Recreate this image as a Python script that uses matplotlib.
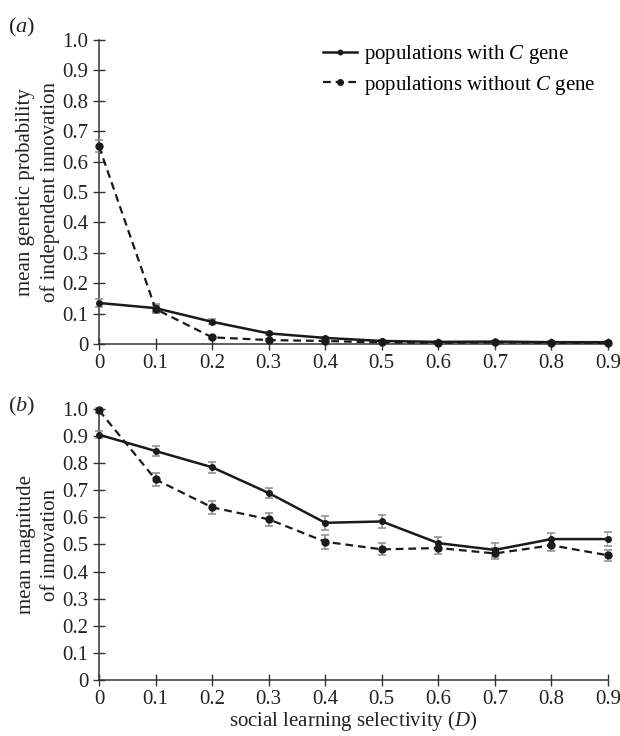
import numpy as np
import matplotlib
matplotlib.use("Agg")
import matplotlib.pyplot as plt

plt.rcParams["font.family"] = "Liberation Serif"
plt.rcParams["mathtext.fontset"] = "custom"
plt.rcParams["mathtext.rm"] = "Liberation Serif"
plt.rcParams["mathtext.it"] = "Liberation Serif:italic"

selectivity = [0, 0.1, 0.2, 0.3, 0.4, 0.5, 0.6, 0.7, 0.8, 0.9]
x_labels = ["0", "0.1", "0.2", "0.3", "0.4", "0.5", "0.6", "0.7", "0.8", "0.9"]
y_ticks = [0, 0.1, 0.2, 0.3, 0.4, 0.5, 0.6, 0.7, 0.8, 0.9, 1.0]
y_labels = ["0", "0.1", "0.2", "0.3", "0.4", "0.5", "0.6", "0.7", "0.8", "0.9", "1.0"]

# (a) mean genetic probability of independent innovation
prob_with = [0.135, 0.118, 0.073, 0.035, 0.02, 0.01, 0.007, 0.008, 0.006, 0.006]
prob_with_err = [0.013, 0.012, 0.008, 0.005, 0.004, 0.003, 0.003, 0.003, 0.003, 0.003]
prob_without = [0.65, 0.115, 0.022, 0.013, 0.01, 0.005, 0.004, 0.005, 0.004, 0.004]
prob_without_err = [0.02, 0.012, 0.004, 0.003, 0.003, 0.002, 0.002, 0.002, 0.002, 0.002]

# (b) mean magnitude of innovation
mag_with = [0.905, 0.845, 0.785, 0.69, 0.58, 0.585, 0.505, 0.48, 0.52, 0.52]
mag_with_err = [0.012, 0.02, 0.02, 0.02, 0.025, 0.025, 0.022, 0.025, 0.022, 0.025]
mag_without = [0.995, 0.74, 0.637, 0.593, 0.51, 0.482, 0.487, 0.467, 0.497, 0.46]
mag_without_err = [0.008, 0.025, 0.025, 0.025, 0.025, 0.022, 0.022, 0.02, 0.022, 0.02]

fig = plt.figure(figsize=(6.2, 7.36), dpi=100)
ax_a = fig.add_axes([0.1597, 0.5326, 0.8210, 0.4131])
ax_b = fig.add_axes([0.1597, 0.0761, 0.8210, 0.3682])

fs = 15


def draw(ax, y1, e1, y2, e2):
    c1 = ax.errorbar(selectivity, y1, yerr=e1, color="#1a1a1a", ecolor="#8c8c8c",
                     elinewidth=1.1, capsize=3, capthick=1.1, lw=1.8, marker="o",
                     ms=4, label="populations with $C$ gene", zorder=3)
    c2 = ax.errorbar(selectivity, y2, yerr=e2, color="#1a1a1a", ecolor="#8c8c8c",
                     elinewidth=1.1, capsize=3, capthick=1.1, lw=1.6,
                     ls=(0, (3.5, 2.2)), marker="o", ms=5,
                     label="populations without $C$ gene", zorder=3)
    ax.set_xlim(0, 0.9)
    ax.set_ylim(0, 1.0)
    ax.set_xticks(selectivity)
    ax.set_xticklabels(x_labels, fontsize=fs)
    ax.set_yticks(y_ticks)
    ax.set_yticklabels(y_labels, fontsize=fs)
    for s in ["top", "right"]:
        ax.spines[s].set_visible(False)
    for s in ["left", "bottom"]:
        ax.spines[s].set_color("#333333")
        ax.spines[s].set_linewidth(1.1)
    ax.tick_params(direction="inout", length=9, width=1.0, color="#333333",
                   labelcolor="#222222", pad=3)
    for ln in ax.lines:
        ln.set_clip_on(False)
    return c1, c2


h1, h2 = draw(ax_a, prob_with, prob_with_err, prob_without, prob_without_err)
draw(ax_b, mag_with, mag_with_err, mag_without, mag_without_err)

ax_a.set_ylabel("mean genetic probability\nof independent innovation",
                fontsize=fs, color="#222222", linespacing=1.3, labelpad=2)
ax_b.set_ylabel("mean magnitude\nof innovation",
                fontsize=fs, color="#222222", linespacing=1.3, labelpad=2)
ax_b.set_xlabel("social learning selectivity ($D$)", fontsize=fs,
                color="#222222", labelpad=0)

ax_a.legend(handles=[h1.lines[0], h2.lines[0]],
            labels=["populations with $C$ gene", "populations without $C$ gene"],
            loc="upper right", bbox_to_anchor=(1.0, 1.03), frameon=False,
            fontsize=fs, handlelength=1.6, handletextpad=0.35,
            labelspacing=0.35, borderaxespad=0.2, markerscale=0.8)

fig.text(0.035, 0.963, "($a$)", fontsize=fs + 1, ha="center", va="center",
         color="#222222")
fig.text(0.035, 0.448, "($b$)", fontsize=fs + 1, ha="center", va="center",
         color="#222222")

fig.savefig("out.png", dpi=100)
